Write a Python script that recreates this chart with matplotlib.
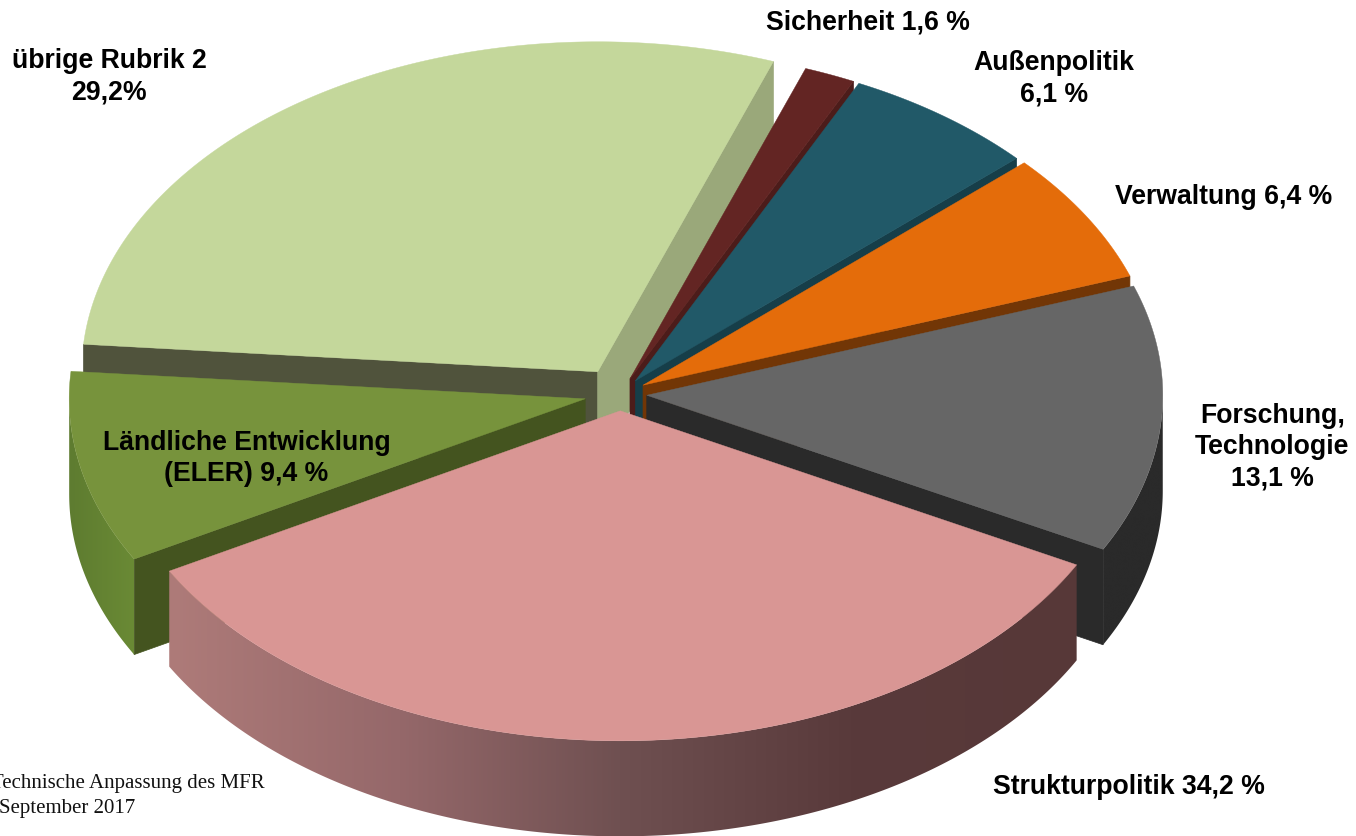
#!/usr/bin/python
# -*- coding: utf-8 -*-

import numpy as np
import matplotlib
matplotlib.use('Agg')
import matplotlib.pyplot as plt
from matplotlib.colors import to_rgb
from matplotlib.patches import Polygon

# clockwise from the first slice, percent
names = ['Sicherheit', 'Außenpolitik', 'Verwaltung', 'Forschung, Technologie',
         'Strukturpolitik', 'Ländliche Entwicklung (ELER)', 'übrige Rubrik 2']
values = [1.6, 6.1, 6.4, 13.1, 34.2, 9.4, 29.2]
explode = [0.05, 0.05, 0.052, 0.052, 0.051, 0.069, 0.08]

top_colors = ['#632523', '#215968', '#e46c0a', '#666666', '#d99694', '#77933c', '#c4d79b']
start_wall_colors = [None, None, None, None, None, '#44541f', '#50533c']
end_wall_colors = ['#4c1c1a', '#163e49', '#723606', '#2a2a2a', None, None, '#9aa87a']
# outer wall shading, from left to right on screen
outer_x = [[], [], [], [1100, 1165], [170, 400, 620, 850, 1080], [70, 135], []]
outer_colors = [[], [], [], ['#2a2a2a', '#2a2a2a'],
                ['#ae7b79', '#95686a', '#6f5051', '#593a3b', '#573838'],
                ['#5e7c30', '#6a8a35'], []]

# label text, x, y of the centre of the line
label_text = ['Sicherheit 1,6 %', 'Außenpolitik', '6,1 %', 'Verwaltung 6,4 %', 'Forschung,',
              'Technologie', '13,1 %', 'Strukturpolitik 34,2 %', 'Ländliche Entwicklung',
              '(ELER) 9,4 %', 'übrige Rubrik 2', '29,2%']
label_x = [868, 1054, 1054, 1224, 1273, 1272, 1272, 1129, 247, 246, 109, 109]
label_y = [22, 63, 94, 197, 416, 447, 478, 787, 443, 474, 61, 92]

# chart geometry in pixels
cx, cy = 620, 395
ra, rb = 516, 330
depth = 95.5
first_angle = 19.9

# order back to front
draw_order = [6, 0, 1, 2, 3, 5, 4]


def rim(ox, oy, t):
    t = np.radians(t)
    return ox + ra * np.sin(t), oy - rb * np.cos(t)


fig = plt.figure(figsize=(13.56, 8.37), dpi=100)
ax = fig.add_axes([0, 0, 1, 1])

edges = first_angle + 3.6 * np.concatenate([[0], np.cumsum(values)])

z = 1
for i in draw_order:
    t0, t1 = edges[i], edges[i + 1]
    tm = (t0 + t1) / 2
    ox, oy = rim(cx, cy, tm)
    # pull the apex out along the middle of the slice
    ox = cx + explode[i] * (ox - cx)
    oy = cy + explode[i] * (oy - cy)

    for t, col in [(t0, start_wall_colors[i]), (t1, end_wall_colors[i])]:
        if col is None:
            continue
        rx, ry = rim(ox, oy, t)
        ax.fill([ox, rx, rx, ox], [oy, ry, ry + depth, oy + depth],
                color=col, lw=0.5, zorder=z)
        z += 1

    # curved outside wall, only the part facing the viewer
    a0, a1 = max(t0, 90), min(t1, 270)
    if a1 > a0:
        steps = np.linspace(a0, a1, 200)
        xs, ys = rim(ox, oy, steps)
        wall = np.column_stack([np.r_[xs, xs[::-1]], np.r_[ys, ys[::-1] + depth]])
        x_lo, x_hi = xs.min(), xs.max()
        grid = np.linspace(x_lo, x_hi, 512)
        rgb = np.array([to_rgb(c) for c in outer_colors[i]])
        row = np.column_stack([np.interp(grid, outer_x[i], rgb[:, k]) for k in range(3)])
        im = ax.imshow(row[np.newaxis, :, :], extent=(x_lo, x_hi, ys.max() + depth, ys.min()),
                       aspect='auto', interpolation='bilinear', zorder=z)
        im.set_clip_path(Polygon(wall, closed=True, transform=ax.transData))
        z += 1

    ts = np.linspace(t0, t1, 200)
    xs, ys = rim(ox, oy, ts)
    ax.fill(np.r_[ox, xs], np.r_[oy, ys], color=top_colors[i], lw=0.3, zorder=z)
    z += 1

for s, x, y in zip(label_text, label_x, label_y):
    ax.text(x, y, s, ha='center', va='center', fontsize=19.2, fontweight='bold',
            family='Liberation Sans', color='black', zorder=z)

ax.text(265, 784, 'Technische Anpassung des MFR', ha='right', va='center',
        fontsize=15, family='Liberation Serif', color='#111111', zorder=z)
ax.text(-1, 809, 'September 2017', ha='left', va='center',
        fontsize=15, family='Liberation Serif', color='#111111', zorder=z)

ax.set_xlim(0, 1356)
ax.set_ylim(837, 0)
ax.axis('off')

fig.savefig('out.png', dpi=100)
